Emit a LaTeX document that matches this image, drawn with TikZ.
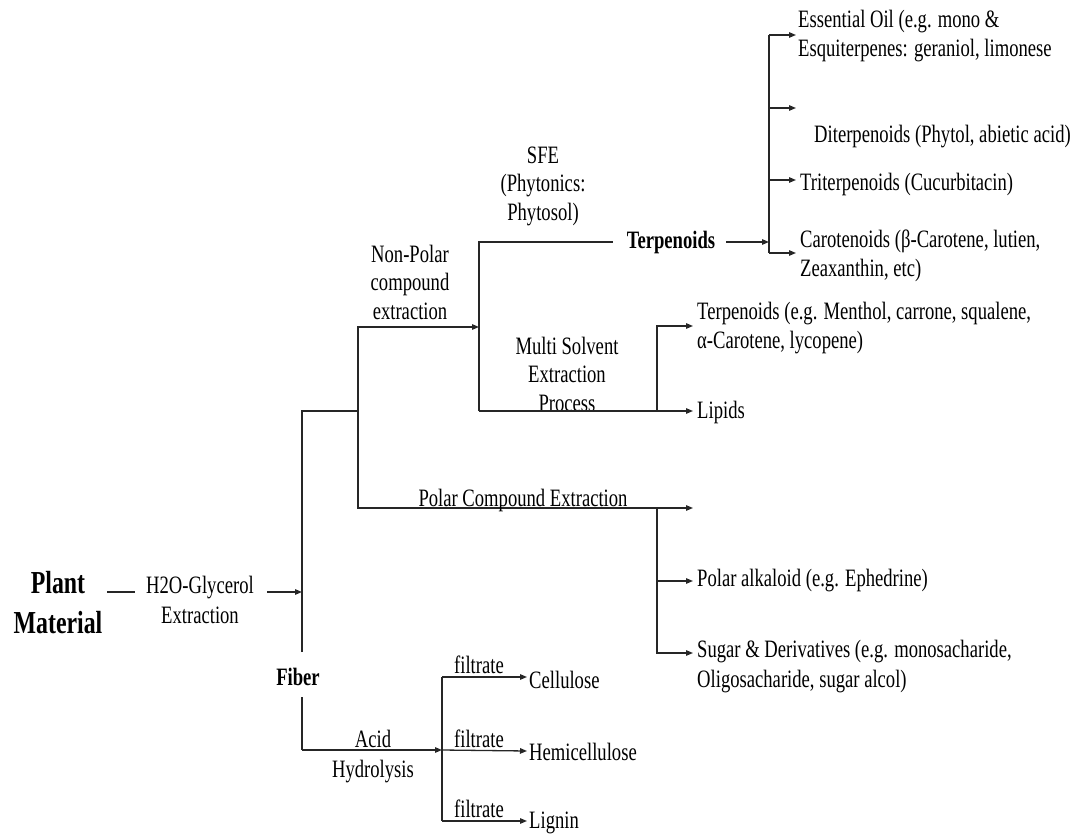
\documentclass[tikz,border=0pt]{standalone}
\usepackage{fontspec}
\setmainfont[FakeStretch=0.745]{Liberation Serif}
\usetikzlibrary{arrows.meta}
\begin{document}
\begin{tikzpicture}[x=1pt,y=-1pt,
  ln/.style={line width=1.3pt, black!85},
  arr/.style={ln, -{Triangle[length=7pt,width=5.5pt]}},
  ltxt/.style={font=\fontsize{25}{28.5}\selectfont, inner sep=0pt, align=left, anchor=west},
  ctxt/.style={font=\fontsize{25}{28.5}\selectfont, inner sep=0pt, align=center},
  btxt/.style={font=\fontsize{25}{28.5}\selectfont\bfseries, inner sep=0pt, align=center},
]
\path[use as bounding box] (0,0) rectangle (1073,834);

% ---------- left part ----------
\node[btxt, font=\fontsize{32}{40}\selectfont\bfseries] (plant) at (58,603) {Plant\\Material};
\node[ctxt, font=\fontsize{25}{30}\selectfont] (h2o) at (200,600) {H2O-Glycerol\\Extraction};
\coordinate (pl1) at (107,592);
\coordinate (pl2) at (135,592);
\draw[ln] (pl1) -- (pl2);
\coordinate (h2oout) at (267,592);
\coordinate (j0) at (302,592);
\draw[arr] (h2oout) -- (j0);

\coordinate (a1) at (302,411);
\coordinate (a2) at (358,411);
\coordinate (fibtop) at (302,652);
\coordinate (fibbot) at (302,697);
\node[btxt] (fiber) at (298,677) {Fiber};
\draw[ln] (fibtop) -- (a1) -- (a2);

% non-polar / polar
\coordinate (np) at (479,327);
\coordinate (pol) at (693,508);
\draw[arr] (a2) |- (np);
\draw[arr] (a2) |- (pol);
\node[ctxt] (nplabel) at (410,282) {Non-Polar\\compound\\extraction};
\node[ctxt, anchor=base] (pollabel) at (523,506) {Polar Compound Extraction};

% SFE / multi solvent
\coordinate (s1) at (479,242);
\coordinate (s2) at (613,242);
\coordinate (s3) at (479,411);
\coordinate (lipend) at (693,411);
\draw[ln] (s3) -- (s1) -- (s2);
\node[ctxt] (sfe) at (543,186) {SFE\\(Phytonics:\\Phytosol)};
\node[btxt] (terp) at (671,242) {Terpenoids};
\node[ctxt] (msep) at (567,374) {Multi Solvent\\Extraction\\Process};
\draw[arr] (s3) -- (lipend);
\coordinate (m1) at (657,411);
\coordinate (mterpend) at (693,326);
\draw[arr] (m1) |- (mterpend);
\node[ltxt] (mterp) at (697,328) {Terpenoids (e.g. Menthol, carrone, squalene,\\α-Carotene, lycopene)};
\node[ltxt] (lipids) at (697,412) {Lipids};

% terpenoid fan
\coordinate (tin) at (726,242);
\coordinate (tj) at (769,242);
\draw[arr] (tin) -- (tj);
\coordinate (f1) at (769,35);
\coordinate (f2) at (769,108);
\coordinate (f3) at (769,180);
\coordinate (f4) at (769,253);
\draw[ln] (f1) -- (f4);
\coordinate (e1) at (796,35);
\coordinate (e2) at (796,108);
\coordinate (e3) at (796,180);
\coordinate (e4) at (796,253);
\draw[arr] (f1) -- (e1);
\draw[arr] (f2) -- (e2);
\draw[arr] (f3) -- (e3);
\draw[arr] (f4) -- (e4);
\node[ltxt] (essoil) at (798,36) {Essential Oil (e.g. mono \&\\Esquiterpenes: geraniol, limonese};
\node[ltxt] (diterp) at (814,137) {Diterpenoids (Phytol, abietic acid)};
\node[ltxt] (triterp) at (800,184) {Triterpenoids (Cucurbitacin)};
\node[ltxt] (carot) at (800,256) {Carotenoids (β-Carotene, lutien,\\Zeaxanthin, etc)};

% polar branch
\coordinate (p1) at (657,508);
\coordinate (alkend) at (693,581);
\coordinate (sugend) at (693,653);
\draw[arr] (p1) |- (alkend);
\draw[arr] (p1) |- (sugend);
\node[ltxt] (alk) at (697,581) {Polar alkaloid (e.g. Ephedrine)};
\node[ltxt, font=\fontsize{25}{30}\selectfont] (sugar) at (697,667) {Sugar \& Derivatives (e.g. monosacharide,\\Oligosacharide, sugar alcol)};

% fiber branch
\coordinate (ac1) at (302,750);
\coordinate (ac2) at (442,750);
\draw[ln] (fibbot) -- (ac1);
\draw[arr] (ac1) -- (ac2);
\node[ctxt, font=\fontsize{25}{30}\selectfont] (acid) at (373,757) {Acid\\Hydrolysis};
\coordinate (c1) at (442,677);
\coordinate (c3) at (442,821);
\draw[ln] (c1) -- (c3);
\coordinate (ce) at (527,677);
\coordinate (he) at (527,751);
\coordinate (le) at (527,821);
\draw[arr] (c1) -- (ce);
\draw[arr] (ac2) -- (he);
\draw[arr] (c3) -- (le);
\node[ctxt, anchor=base] (fl1) at (479,673) {filtrate};
\node[ctxt, anchor=base] (fl2) at (479,747) {filtrate};
\node[ctxt, anchor=base] (fl3) at (479,817) {filtrate};
\node[ltxt] (cell) at (529,680) {Cellulose};
\node[ltxt] (hemi) at (529,752) {Hemicellulose};
\node[ltxt] (lig) at (529,823) {Lignin};
\end{tikzpicture}
\end{document}
